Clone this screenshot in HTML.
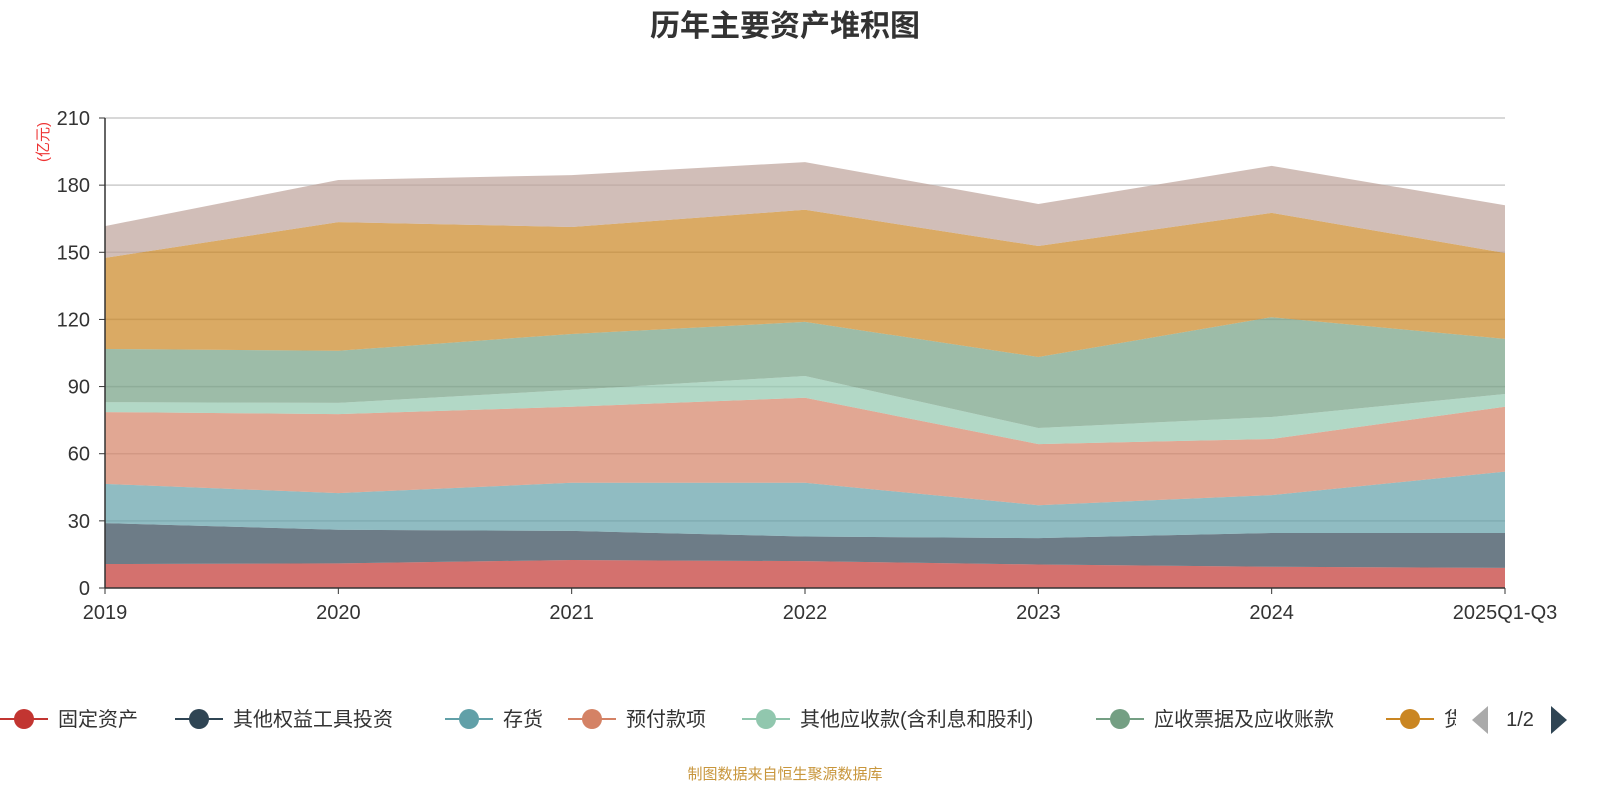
<!DOCTYPE html>
<html><head><meta charset="utf-8">
<style>
body{margin:0;background:#fff;width:1600px;height:800px;overflow:hidden;font-family:"Liberation Sans","Noto Sans CJK SC",sans-serif;}
svg text{font-family:"Liberation Sans","Noto Sans CJK SC",sans-serif;}
</style></head>
<body>
<svg id="chart" width="1600" height="800">
<text x="785" y="36" text-anchor="middle" font-size="30" font-weight="bold" fill="#333">历年主要资产堆积图</text>
<text transform="translate(48,142) rotate(-90)" text-anchor="middle" font-size="15" fill="#e33">(亿元)</text>
<g id="grid"></g><g id="areas"></g><g id="axes"></g><g id="legend"></g>
<text x="785" y="779" text-anchor="middle" font-size="15" fill="#c8963c">制图数据来自恒生聚源数据库</text>
</svg>
<script>
const categories=["2019","2020","2021","2022","2023","2024","2025Q1-Q3"];
const yTicks=[0,30,60,90,120,150,180,210];
const seriesNames=["固定资产","其他权益工具投资","存货","预付款项","其他应收款(含利息和股利)","应收票据及应收账款","货币资金","其他"];
const seriesColors=["#c23531","#2f4554","#61a0a8","#d48265","#91c7ae","#749f83","#ca8622","#bda29a"];
const sFixed=[10.7,11,12.5,12,10.5,9.5,9];
const sEquity=[18.3,15,13,11,11.8,15.1,15.6];
const sInventory=[17.5,16.4,21.5,24,14.7,16.9,27.4];
const sPrepaid=[32.1,35.3,34,38,27.3,25.1,29];
const sOtherRec=[4.4,5,7.5,9.7,7.2,9.8,5.7];
const sAR=[23.8,23.3,25,24.2,31.7,44.6,24.6];
const sCash=[40.7,57.5,47.8,50.1,49.6,46.6,38.4];
const sOther=[14.2,18.8,23.2,21.3,18.8,21,21.3];
const series=[sFixed,sEquity,sInventory,sPrepaid,sOtherRec,sAR,sCash,sOther];
const NS="http://www.w3.org/2000/svg";
const X0=105,X1=1505,Y0=588,Y1=118,YMAX=210;
const xs=i=>X0+(X1-X0)*i/(categories.length-1);
const ys=v=>Y0-(Y0-Y1)*v/YMAX;
function mk(t,a,p){const e=document.createElementNS(NS,t);for(const k in a)e.setAttribute(k,a[k]);p.appendChild(e);return e;}
const grid=document.getElementById('grid'),axes=document.getElementById('axes'),areas=document.getElementById('areas'),legend=document.getElementById('legend');
yTicks.forEach(v=>{
 if(v>0){const l=mk('line',{x1:X0,x2:X1,y1:ys(v),y2:ys(v),stroke:'#ccc','stroke-width':1.5},grid);
 
 }
 const t=mk('text',{x:90,y:ys(v)+7,'text-anchor':'end','font-size':20,fill:'#333'},axes);t.textContent=v;
 
 
 mk('line',{x1:X0-6,x2:X0,y1:ys(v),y2:ys(v),stroke:'#333'},axes);
});
let base=categories.map(()=>0);
series.forEach((s,si)=>{
 const top=base.map((b,i)=>b+s[i]);
 let d='M'+top.map((v,i)=>xs(i)+','+ys(v)).join('L');
 for(let i=categories.length-1;i>=0;i--)d+='L'+xs(i)+','+ys(base[i]);
 const p=mk('path',{d:d+'Z',fill:seriesColors[si],'fill-opacity':0.7},areas);
 
 
 base=top;
});
mk('line',{x1:X0,x2:X0,y1:Y1,y2:Y0,stroke:'#333','stroke-width':1.5},axes);
mk('line',{x1:X0,x2:X1,y1:Y0,y2:Y0,stroke:'#333','stroke-width':1.5},axes);
categories.forEach((c,i)=>{
 mk('line',{x1:xs(i),x2:xs(i),y1:Y0,y2:Y0+6,stroke:'#333'},axes);
 const t=mk('text',{x:xs(i),y:Y0+31,'text-anchor':'middle','font-size':20,fill:'#333'},axes);t.textContent=c;
 
 
});
const lx=[0,175,445,568,742,1096,1386];
lx.forEach((x,i)=>{
 const g=mk('g',{},legend);
 
 
 mk('line',{x1:x,x2:x+48,y1:719,y2:719,stroke:seriesColors[i],'stroke-width':2},g);
 mk('circle',{cx:x+24,cy:719,r:10,fill:seriesColors[i]},g);
 const t=mk('text',{x:x+58,y:726,'font-size':20,fill:'#333'},g);t.textContent=seriesNames[i];
 if(i==6){t.setAttribute('textLength','0');t.removeAttribute('textLength');}
});
// clip last legend text
const cp=mk('rect',{x:1456,y:700,width:144,height:40,fill:'#fff'},legend);
const pl=mk('path',{d:'M1488,706L1472,720L1488,734Z',fill:'#aaa'},legend);


const pt=mk('text',{x:1520,y:726,'text-anchor':'middle','font-size':20,fill:'#333'},legend);pt.textContent='1/2';


const pn=mk('path',{d:'M1551,706L1567,720L1551,734Z',fill:'#2f4554'},legend);


</script>
</body></html>
